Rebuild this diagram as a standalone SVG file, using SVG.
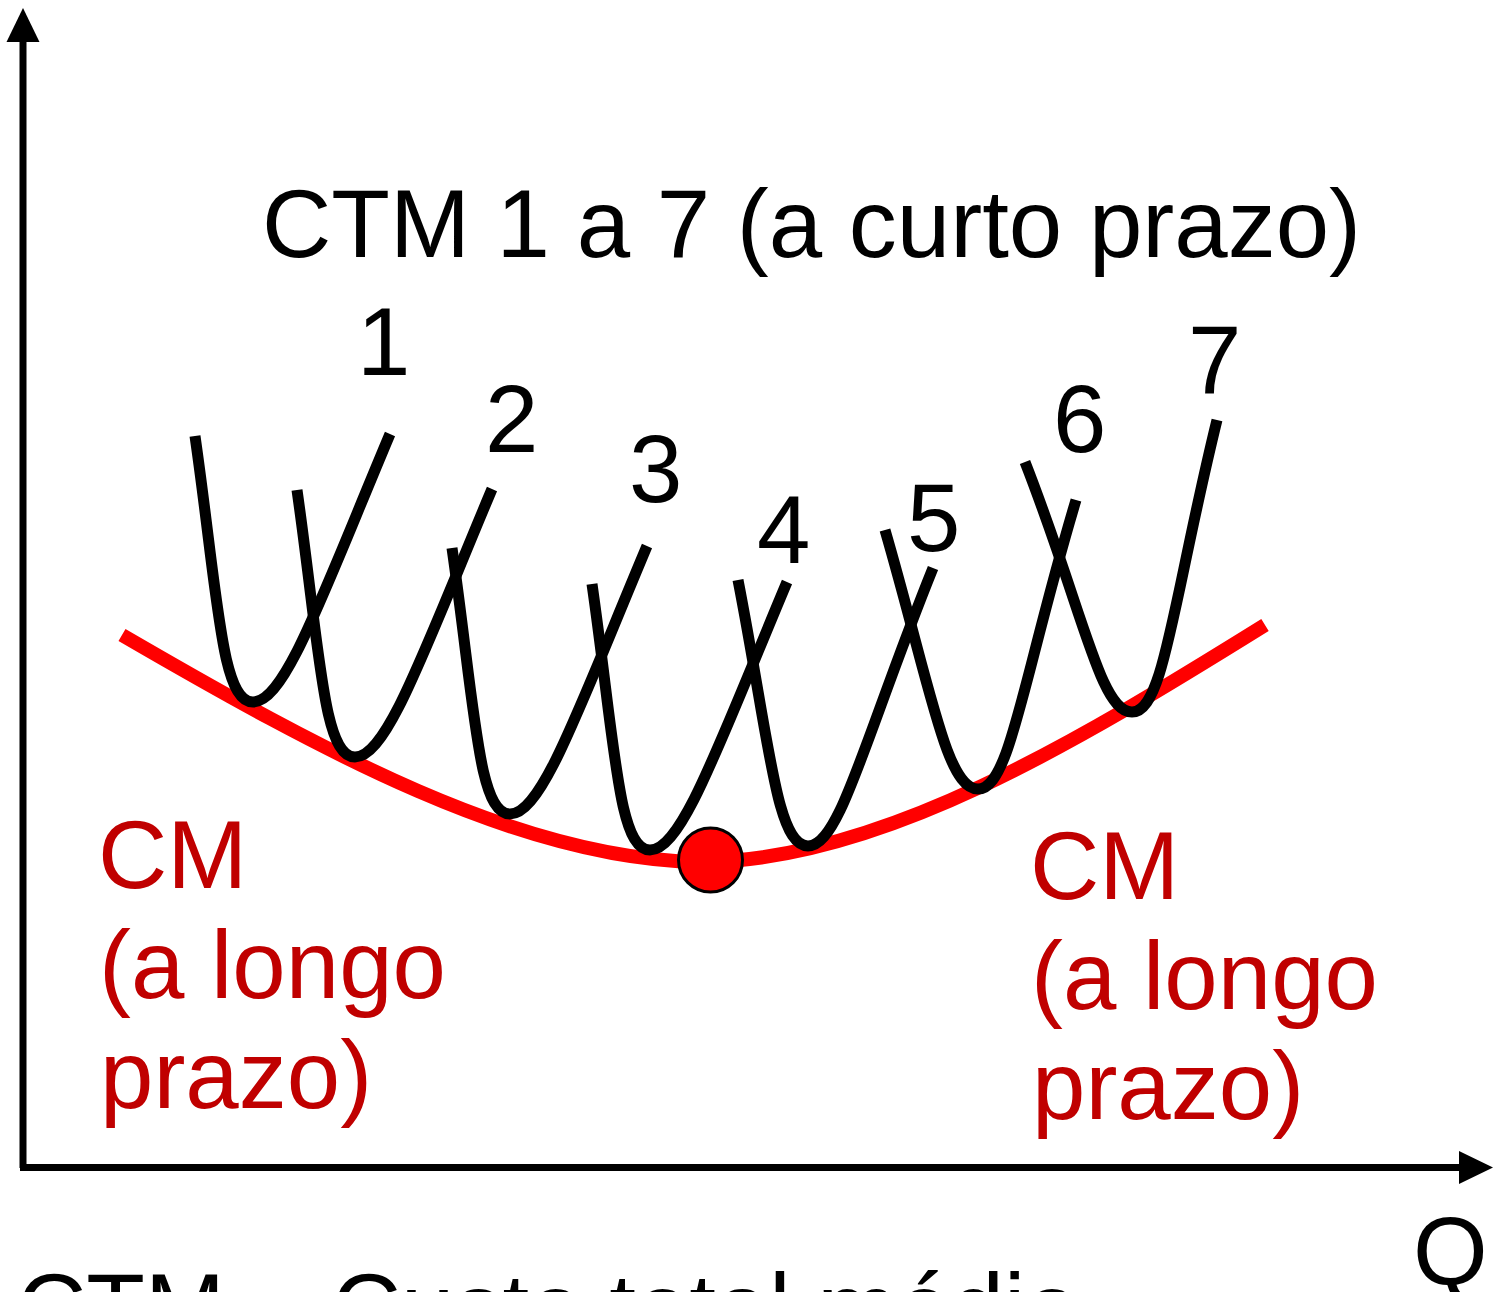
<svg xmlns="http://www.w3.org/2000/svg" width="1505" height="1292" viewBox="0 0 1505 1292">
<style>
text{font-family:"Liberation Sans",Arial,sans-serif;font-size:96px}
.blk{fill:#000}
.red{fill:#c00000}
.ctm{fill:none;stroke:#000;stroke-width:11}
.axis{stroke:#000;stroke-width:7;fill:none}
</style>
<rect width="1505" height="1292" fill="#fff"/>
<g id="axes">
<line class="axis" x1="23" y1="1168" x2="23" y2="38"/>
<polygon points="23,8 6.5,42 39.5,42" fill="#000"/>
<line class="axis" x1="20" y1="1167.5" x2="1464" y2="1167.5"/>
<polygon points="1493,1167.5 1459,1151 1459,1184" fill="#000"/>
</g>
<g id="connectors">
<path id="cm-curve" d="M122,635 C320,750 520,860 700,862 C880,862 1080,740 1265,625" fill="none" stroke="#ff0000" stroke-width="14"/>
<path id="ctm1" class="ctm" d="M195,436 C218.1,597.7 221,702 253,702 C285,702 321.4,597.1 390,434"/>
<path id="ctm2" class="ctm" d="M297,490 C320.1,652.7 323,757 355,757 C387,757 423.4,652.1 492,489"/>
<path id="ctm3" class="ctm" d="M452,548 C475.1,709.7 478,814 510,814 C542,814 578.4,709.1 647,546"/>
<path id="ctm4" class="ctm" d="M592,584 C615.1,745.7 618,850 650,850 C682,850 718.4,745.1 787,582"/>
<path id="ctm5" class="ctm" d="M738,580 C769.5,741.7 776,846 808,846 C840,846 864.4,738.1 933,568"/>
<path id="ctm6" class="ctm" d="M885,530 C930.5,686.8 946,789 978,789 C1010,789 1022.8,677.8 1076,500"/>
<path id="ctm7" class="ctm" d="M1025,462 C1083.8,612.5 1100,712 1132,712 C1164,712 1172.9,599.9 1217,420"/>
</g>
<g id="min-point">
<circle cx="710.5" cy="860" r="32" fill="#ff0000" stroke="#000" stroke-width="3"/>
</g>
<g id="title"><text class="blk" x="262" y="257">CTM 1 a 7 (a curto prazo)</text></g>
<g id="labels">
<text class="blk" x="357" y="375">1</text>
<text class="blk" x="485" y="452">2</text>
<text class="blk" x="629" y="502">3</text>
<text class="blk" x="757" y="563">4</text>
<text class="blk" x="907" y="551">5</text>
<text class="blk" x="1053" y="452">6</text>
<text class="blk" x="1188" y="393">7</text>
</g>
<g id="cm-left">
<text class="red" x="98" y="888">CM</text>
<text class="red" x="99" y="998">(a longo</text>
<text class="red" x="100" y="1108">prazo)</text>
</g>
<g id="cm-right">
<text class="red" x="1030" y="899">CM</text>
<text class="red" x="1031" y="1009">(a longo</text>
<text class="red" x="1032" y="1119">prazo)</text>
</g>
<g id="q-label"><text class="blk" x="1413" y="1285">Q</text></g>
<g id="footer"><text class="blk" x="17" y="1341">CTM – Custo total médio</text></g>
</svg>
